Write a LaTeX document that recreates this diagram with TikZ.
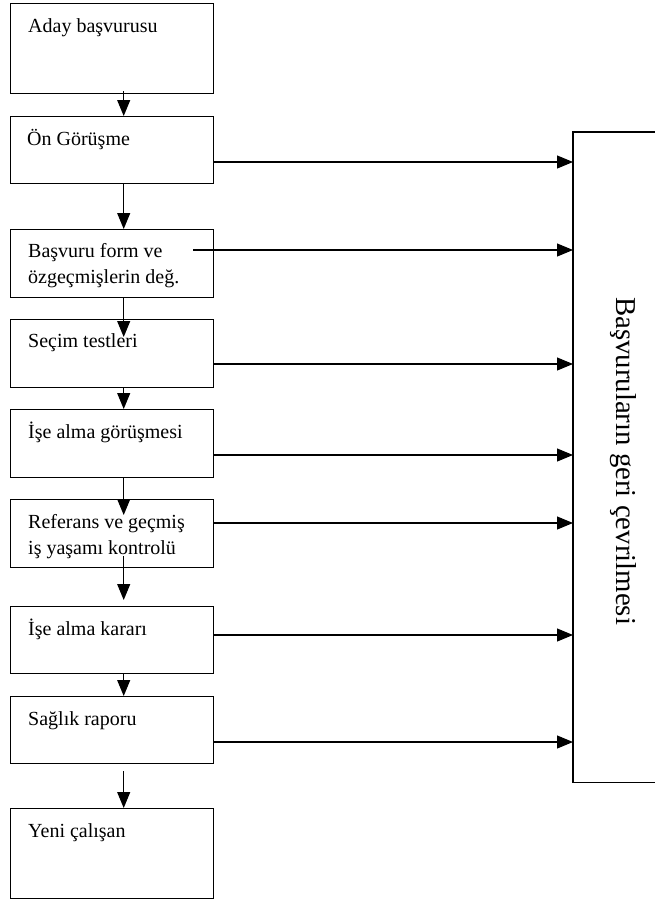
\documentclass[tikz,border=0pt]{standalone}
\usepackage{fontspec}
\setmainfont{Liberation Serif}
\usetikzlibrary{arrows.meta}
\begin{document}
\begin{tikzpicture}[x=1pt,y=-1pt,
  stage/.style={draw, line width=1.4pt, minimum width=203pt, anchor=north west, inner sep=0pt},
  lbl/.style={anchor=base west, inner sep=0pt, font=\fontsize{20}{26}\selectfont},
  arr/.style={line width=1.1pt, -{Triangle[length=16pt,width=13pt]}},
  side/.style={line width=1.4pt}]
\fill[white] (0,0) rectangle (655,903);
\useasboundingbox (0,0) rectangle (655,903);
% boxes
\node[stage, minimum height=90pt] (b1) at (10,3) {};
\node[stage, minimum height=67pt] (b2) at (10,116) {};
\node[stage, minimum height=68pt] (b3) at (10,229) {};
\node[stage, minimum height=68pt] (b4) at (10,319) {};
\node[stage, minimum height=68pt] (b5) at (10,409) {};
\node[stage, minimum height=68pt] (b6) at (10,499) {};
\node[stage, minimum height=67pt] (b7) at (10,606) {};
\node[stage, minimum height=67pt] (b8) at (10,696) {};
\node[stage, minimum height=90pt] (b9) at (10,808) {};
% texts
\node[lbl] (t1) at ([xshift=18pt,yshift=-29pt]b1.north west) {Aday başvurusu};
\node[lbl] (t2) at ([xshift=17pt,yshift=-29pt]b2.north west) {Ön Görüşme};
\node[lbl] (t3) at ([xshift=18pt,yshift=-28pt]b3.north west) {\parbox[t]{185pt}{Başvuru form ve\\özgeçmişlerin değ.}};
\node[lbl] (t4) at ([xshift=18pt,yshift=-28pt]b4.north west) {Seçim testleri};
\node[lbl] (t5) at ([xshift=18pt,yshift=-29pt]b5.north west) {İşe alma görüşmesi};
\node[lbl] (t6) at ([xshift=18pt,yshift=-29pt]b6.north west) {\parbox[t]{185pt}{Referans ve geçmiş\\iş yaşamı kontrolü}};
\node[lbl] (t7) at ([xshift=18pt,yshift=-29pt]b7.north west) {İşe alma kararı};
\node[lbl] (t8) at ([xshift=18pt,yshift=-29pt]b8.north west) {Sağlık raporu};
\node[lbl] (t9) at ([xshift=18pt,yshift=-29pt]b9.north west) {Yeni çalışan};
% right box
\node[anchor=north west, minimum width=82pt, minimum height=650pt, inner sep=0pt] (R) at (573,132) {};
\draw[side] (R.north east) -- (R.north west) -- (R.south west) -- (R.south east);
\node[rotate=-90, anchor=base west, inner sep=0pt, font=\fontsize{28.8}{32}\selectfont] (rt) at (616,297) {Başvuruların geri çevrilmesi};
% vertical arrows
\draw[arr] ([xshift=11.5pt,yshift=3pt]b1.south) -- ([xshift=11.5pt]b2.north);
\draw[arr] ([xshift=11.5pt]b2.south) -- ([xshift=11.5pt]b3.north);
\draw[arr] ([xshift=11.5pt]b3.south) -- ([xshift=11.5pt,yshift=-18pt]b4.north);
\draw[arr] ([xshift=11.5pt]b4.south) -- ([xshift=11.5pt]b5.north);
\draw[arr] ([xshift=11.5pt]b5.south) -- ([xshift=11.5pt,yshift=-16pt]b6.north);
\draw[arr] ([xshift=11.5pt,yshift=12pt]b6.south) -- ([xshift=11.5pt,yshift=6pt]b7.north);
\draw[arr] ([xshift=11.5pt]b7.south) -- ([xshift=11.5pt]b8.north);
\draw[arr] ([xshift=11.5pt,yshift=-7pt]b8.south) -- ([xshift=11.5pt]b9.north);
% horizontal arrows
\draw[arr] (b2.east |- 0,162) -- (R.west |- 0,162);
\draw[arr] ([xshift=-21pt]b3.east |- 0,250) -- (R.west |- 0,250);
\draw[arr] (b4.east |- 0,364) -- (R.west |- 0,364);
\draw[arr] (b5.east |- 0,455) -- (R.west |- 0,455);
\draw[arr] (b6.east |- 0,523) -- (R.west |- 0,523);
\draw[arr] (b7.east |- 0,635) -- (R.west |- 0,635);
\draw[arr] (b8.east |- 0,742) -- (R.west |- 0,742);
\end{tikzpicture}
\end{document}
